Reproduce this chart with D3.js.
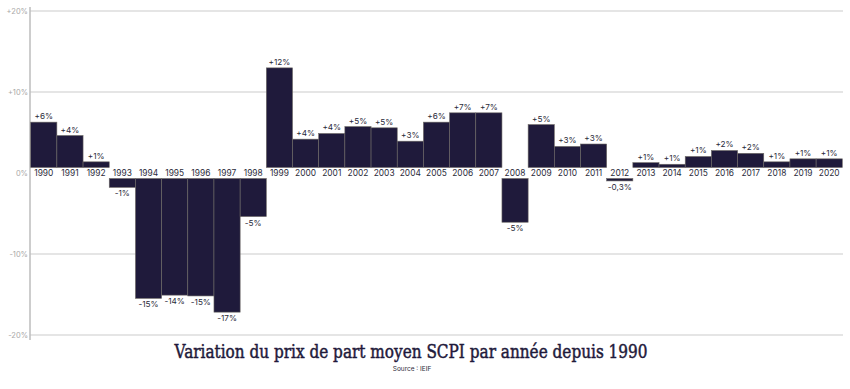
<!DOCTYPE html>
<html lang="fr">
<head>
  <meta charset="UTF-8">
  <title>Variation du prix de part moyen SCPI</title>
  <script src="https://d3js.org/d3.v7.min.js"></script>
  <style>
    body { margin: 0; background: #fff; }
    text { font-family: Inter, "Noto Sans", sans-serif; }
  </style>
</head>
<body>
<div id="chart"></div>
<script>
// data
var years = ["1990","1991","1992","1993","1994","1995","1996","1997","1998","1999","2000",
             "2001","2002","2003","2004","2005","2006","2007","2008","2009","2010",
             "2011","2012","2013","2014","2015","2016","2017","2018","2019","2020"];
var values = [5.6, 3.95, 0.7, -1.1, -14.8, -14.4, -14.5, -16.5, -4.7, 12.3, 3.5,
              4.2, 5.05, 4.9, 3.25, 5.6, 6.75, 6.75, -5.4, 5.3, 2.6,
              2.9, -0.3, 0.6, 0.4, 1.36, 2.1, 1.75, 0.7, 1.07, 1.07];
var valueLabels = ["+6%","+4%","+1%","-1%","-15%","-14%","-15%","-17%","-5%","+12%","+4%",
                   "+4%","+5%","+5%","+3%","+6%","+7%","+7%","-5%","+5%","+3%",
                   "+3%","-0,3%","+1%","+1%","+1%","+2%","+2%","+1%","+1%","+1%"];
var yTicks = [20, 10, 0, -10, -20];
var tickLabels = ["+20%", "+10%", "0%", "-10%", "-20%"];

var width = 850, height = 389;
var gap = 5.5; // white band around zero that holds the year labels

var svg = d3.select("#chart").append("svg")
    .attr("width", width)
    .attr("height", height);

var x = d3.scaleBand().domain(years).range([30.7, 842.3]).padding(0);
var y = d3.scaleLinear().domain([-20, 20]).range([335, 11]);

// grid lines
svg.selectAll(".grid")
    .data(yTicks.filter(function(d) { return d !== 0; }))
    .enter().append("line")
    .attr("x1", 30).attr("x2", 843)
    .attr("y1", function(d) { return y(d); })
    .attr("y2", function(d) { return y(d); })
    .attr("stroke", "#dcdcdc")
    .attr("stroke-width", 1.5);

// axis line
svg.append("line")
    .attr("x1", 30).attr("x2", 30)
    .attr("y1", 7).attr("y2", 340)
    .attr("stroke", "#bdbdbd")
    .attr("stroke-width", 1.5);

// tick labels
svg.selectAll(".tick-label")
    .data(yTicks)
    .enter().append("text")
    .attr("x", 28)
    .attr("y", function(d) { return y(d); })
    .attr("dy", "0.35em")
    .attr("text-anchor", "end")
    .attr("font-size", 7.5)
    .attr("fill", "#a8a8a8")
    .text(function(d, i) { return tickLabels[i]; });

// bars
svg.selectAll(".bar")
    .data(values)
    .enter().append("rect")
    .attr("x", function(d, i) { return x(years[i]); })
    .attr("width", x.bandwidth())
    .attr("y", function(d) { return d >= 0 ? y(d) - gap : y(0) + gap; })
    .attr("height", function(d) { return Math.abs(y(d) - y(0)); })
    .attr("fill", "#1f1a3b")
    .attr("stroke", "#6e6a66")
    .attr("stroke-width", 0.6);

// year labels
svg.selectAll(".year")
    .data(years)
    .enter().append("text")
    .attr("x", function(d) { return x(d) + x.bandwidth() / 2; })
    .attr("y", y(0))
    .attr("dy", "0.36em")
    .attr("text-anchor", "middle")
    .attr("font-size", 8.4)
    .attr("fill", "#2b2b3a")
    .text(function(d) { return d; });

// value labels
svg.selectAll(".val")
    .data(values)
    .enter().append("text")
    .attr("x", function(d, i) { return x(years[i]) + x.bandwidth() / 2; })
    .attr("y", function(d) { return d >= 0 ? y(d) - gap - 3 : y(d) + gap + 9; })
    .attr("text-anchor", "middle")
    .attr("font-size", 8.2)
    .attr("fill", "#2b2b3a")
    .text(function(d, i) { return valueLabels[i]; });

// title
svg.append("text")
    .attr("x", 411)
    .attr("y", 358)
    .attr("text-anchor", "middle")
    .style("font-family", "'DejaVu Serif', serif")
    .attr("font-size", 18.5)
    .attr("fill", "#1f1a3b")
    .attr("stroke", "#1f1a3b")
    .attr("stroke-width", 0.5)
    .attr("textLength", 473)
    .attr("lengthAdjust", "spacingAndGlyphs")
    .text("Variation du prix de part moyen SCPI par année depuis 1990");

svg.append("text")
    .attr("x", 412)
    .attr("y", 371)
    .attr("text-anchor", "middle")
    .attr("font-size", 6.5)
    .attr("fill", "#2b2b3a")
    .text("Source : IEIF");
</script>
</body>
</html>
